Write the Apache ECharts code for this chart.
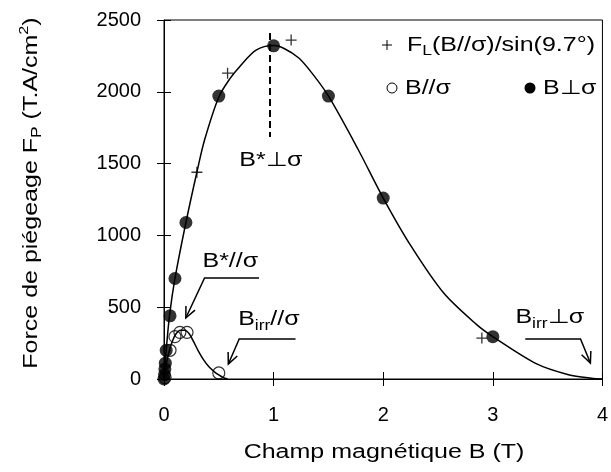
<!DOCTYPE html>
<html><head><meta charset="utf-8">
<script src="https://cdn.jsdelivr.net/npm/echarts@6/dist/echarts.min.js"></script>
<style>html,body{margin:0;padding:0;background:#fff}#c{width:611px;height:472px}</style>
</head><body><div id="c"></div>
<script>
// ---------- data ----------
const xTicks = [0, 1, 2, 3, 4];
const yTicks = [0, 500, 1000, 1500, 2000, 2500];
// B perpendicular to sigma (filled circles)
const perpB = [0, 0.005, 0.008, 0.012, 0.02, 0.055, 0.1, 0.2, 0.5, 1.0, 1.5, 2.0, 3.0];
const perpF = [0, 30, 70, 110, 200, 440, 700, 1090, 1970, 2320, 1970, 1260, 295];
// B parallel to sigma (open circles)
const paraB = [0.01, 0.055, 0.1, 0.145, 0.21, 0.5];
const paraF = [10, 200, 295, 325, 325, 42];
// F_L(B//sigma)/sin(9.7°) (plus markers)
const flB = [0.3, 0.58, 1.16, 2.9];
const flF = [1440, 2130, 2360, 285];
// fitted curve, perpendicular
const perpFitB = [0, 0.02, 0.05, 0.1, 0.2, 0.3, 0.37, 0.5, 0.6, 0.69, 0.84, 1.0, 1.1, 1.23, 1.35, 1.5, 1.77, 2.0, 2.25, 2.55, 2.85, 3.0, 3.4, 3.69, 3.9, 4.0];
const perpFitF = [0, 200, 440, 700, 1090, 1440, 1664, 1964, 2090, 2175, 2290, 2322, 2300, 2235, 2130, 1971, 1600, 1260, 930, 600, 380, 295, 105, 30, 5, 0];
// fitted curve, parallel
const paraFitB = [0, 0.02, 0.05, 0.08, 0.11, 0.15, 0.19, 0.23, 0.27, 0.31, 0.36, 0.41, 0.46, 0.5, 0.54, 0.58];
const paraFitF = [0, 100, 200, 270, 315, 340, 340, 315, 260, 200, 135, 85, 50, 28, 10, 0];
// annotation anchors (data coordinates)
const bStarPerp = 0.966;           // dashed line position
const bStarPerpRange = [1685, 2410];

// ---------- chart ----------
const FONT = 'Liberation Sans';
const FS = 20;
const SX = 1.25;
const zip = (a, b) => a.map((v, i) => [v, b[i]]);
const chart = echarts.init(document.getElementById('c'), null, {renderer: 'canvas'});

const axisCommon = {min: 0, splitLine: {show: false}};
const plain = (v) => String(v);
chart.setOption({
  animation: false,
  backgroundColor: '#fff',
  grid: {left: 164, right: 4, top: 20, bottom: 93, show: true, borderColor: '#000', borderWidth: 1, containLabel: false},
  xAxis: [
    Object.assign({type: 'value', max: xTicks[xTicks.length - 1], interval: xTicks[1] - xTicks[0], position: 'bottom',
      axisLine: {show: true, lineStyle: {color: '#000', width: 1}},
      axisTick: {show: true, inside: false, length: 7, lineStyle: {color: '#000', width: 1}},
      axisLabel: {color: '#000', fontSize: FS, fontFamily: FONT, margin: 26, formatter: plain}}, axisCommon),
    Object.assign({type: 'value', max: xTicks[xTicks.length - 1], interval: xTicks[1] - xTicks[0], position: 'bottom',
      axisLine: {show: false},
      axisTick: {show: true, inside: true, length: 7, lineStyle: {color: '#000', width: 1}},
      axisLabel: {show: false}}, axisCommon)
  ],
  yAxis: [
    Object.assign({type: 'value', max: yTicks[yTicks.length - 1], interval: yTicks[1] - yTicks[0], position: 'left',
      axisLine: {show: true, lineStyle: {color: '#000', width: 1}},
      axisTick: {show: true, inside: false, length: 7, lineStyle: {color: '#000', width: 1}},
      axisLabel: {color: '#000', fontSize: FS, fontFamily: FONT, margin: 23, formatter: plain}}, axisCommon),
    Object.assign({type: 'value', max: yTicks[yTicks.length - 1], interval: yTicks[1] - yTicks[0], position: 'left',
      axisLine: {show: false},
      axisTick: {show: true, inside: true, length: 7, lineStyle: {color: '#000', width: 1}},
      axisLabel: {show: false}}, axisCommon)
  ],
  series: [
    {type: 'line', data: zip(perpFitB, perpFitF), symbol: 'none', smooth: 0.3,
      lineStyle: {color: '#000', width: 1.5}, z: 2,
      markLine: {silent: true, symbol: 'none', label: {show: false},
        lineStyle: {color: '#000', width: 2, type: [7, 4]},
        data: [[{coord: [bStarPerp, bStarPerpRange[1]]}, {coord: [bStarPerp, bStarPerpRange[0]]}]]}},
    {type: 'line', data: zip(paraFitB, paraFitF), symbol: 'none', smooth: 0.3,
      lineStyle: {color: '#000', width: 1.5}, z: 2},
    {type: 'scatter', data: zip(paraB, paraF), symbol: 'circle', symbolSize: 12,
      itemStyle: {color: 'rgba(255,255,255,0)', borderColor: '#000', borderWidth: 1.2}, z: 3},
    {type: 'scatter', data: zip(perpB, perpF), symbol: 'circle', symbolSize: 13,
      itemStyle: {color: '#000'}, z: 4},
    {type: 'scatter', data: zip(flB, flF), symbolSize: 11,
      symbol: 'path://M4.4,0H5.6V4.4H10V5.6H5.6V10H4.4V5.6H0V4.4H4.4Z',
      itemStyle: {color: '#000'}, z: 5}
  ]
});

// ---------- annotations / legend / titles ----------
const rich = {
  sub: {fontSize: 14, fontFamily: FONT, lineHeight: 14, verticalAlign: 'bottom', fill: '#000', color: '#000'},
  sup: {fontSize: 13, fontFamily: FONT, lineHeight: 13, verticalAlign: 'top', fill: '#000', color: '#000'}
};
function txt(x, y, text, align, extra) {
  return Object.assign({type: 'text', x: x, y: y, scaleX: SX, z: 100,
    style: {text: text, fontSize: FS, fontFamily: FONT, lineHeight: 26, fill: '#000',
      align: align, verticalAlign: 'middle', textAlign: align, textVerticalAlign: 'middle', rich: rich}}, extra || {});
}
const px = (p) => chart.convertToPixel({gridIndex: 0}, p);
const LW = 1.5;
function arrow(a, b, tip) {
  const A = px(a), B = px(b), T = px(tip);
  const dx = T[0] - B[0], dy = T[1] - B[1];
  const L = Math.hypot(dx, dy), ux = dx / L, uy = dy / L;
  const hl = 11, hw = 5;
  const h1 = [T[0] - ux * hl - uy * hw, T[1] - uy * hl + ux * hw];
  const h2 = [T[0] - ux * hl + uy * hw, T[1] - uy * hl - ux * hw];
  return [
    {type: 'polyline', z: 100, shape: {points: [A, B, T]}, style: {stroke: '#000', lineWidth: LW, fill: null}},
    {type: 'polyline', z: 100, shape: {points: [h1, T, h2]}, style: {stroke: '#000', lineWidth: LW, fill: null}}
  ];
}
const g = [];
// annotations anchored in data coordinates
let p = px([0.975, 1525]); g.push(txt(p[0], p[1], 'B*⊥σ', 'center'));
p = px([0.605, 815]); g.push(txt(p[0], p[1], 'B*//σ', 'center'));
p = px([0.957, 411]); g.push(txt(p[0], p[1], 'B{sub|irr}//σ', 'center'));
p = px([3.52, 425]); g.push(txt(p[0], p[1], 'B{sub|irr}⊥σ', 'center'));
g.push(...arrow([0.867, 703], [0.37, 703], [0.199, 425]));
g.push(...arrow([1.2, 279], [0.686, 279], [0.587, 104]));
g.push(...arrow([3.296, 279], [3.80, 279], [3.89, 111]));
// legend
g.push({type: 'rect', z: 100, shape: {x: 382, y: 44.5, width: 10, height: 1}, style: {fill: '#000'}});
g.push({type: 'rect', z: 100, shape: {x: 386.5, y: 40, width: 1, height: 10}, style: {fill: '#000'}});
g.push(txt(407, 45, 'F{sub|L}(B//σ)/sin(9.7°)', 'left'));
g.push({type: 'circle', z: 100, shape: {cx: 392, cy: 88, r: 5}, style: {fill: '#fff', stroke: '#000', lineWidth: 1}});
g.push(txt(405, 88, 'B//σ', 'left'));
g.push({type: 'circle', z: 100, shape: {cx: 530, cy: 88, r: 5.5}, style: {fill: '#000'}});
g.push(txt(543, 88, 'B⊥σ', 'left'));
// axis titles
g.push(txt(384, 452, 'Champ magnétique B (T)', 'center'));
g.push(txt(31, 193, 'Force de piégeage F{sub|P} (T.A/cm{sup|2})', 'center', {rotation: Math.PI / 2}));
chart.setOption({graphic: g});
</script></body></html>
